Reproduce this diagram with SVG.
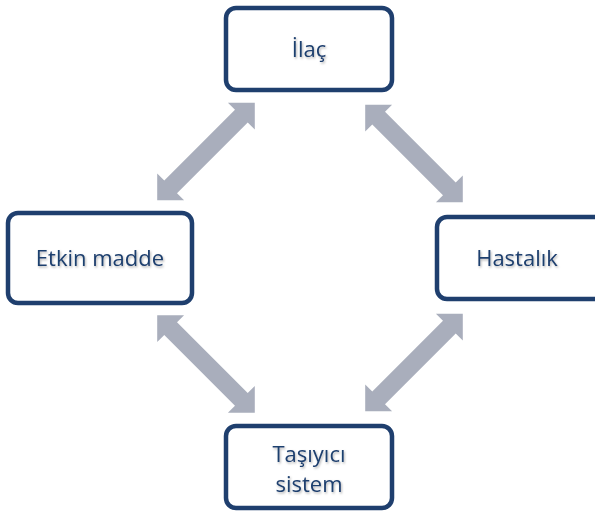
<svg xmlns="http://www.w3.org/2000/svg" width="595" height="512" viewBox="0 0 595 512">
  <defs>
    <filter id="ts" x="-20%" y="-40%" width="140%" height="180%">
      <feDropShadow dx="1" dy="1.5" stdDeviation="1.2" flood-color="#000" flood-opacity="0.3"/>
    </filter>
    <path id="arrow" d="M -69,0 L -50,-19 L -50,-9 L 50,-9 L 50,-19 L 69,0 L 50,19 L 50,9 L -50,9 L -50,19 Z"/>
  </defs>
  <style>
    .box { fill: #ffffff; stroke: #1f3f6e; stroke-width: 4.5; }
    .lbl { font-family: "Open Sans", "Liberation Sans", sans-serif; font-size: 22px; fill: #1f3f6e; text-anchor: middle; filter: url(#ts); }
    .arr { fill: #a9aebc; }
  </style>
  <rect width="595" height="512" fill="#ffffff"/>
  <g id="connectors">
    <use href="#arrow" class="arr" transform="translate(206,151.5) rotate(-45)"/>
    <use href="#arrow" class="arr" transform="translate(414,153.5) rotate(45)"/>
    <use href="#arrow" class="arr" transform="translate(206,364) rotate(45)"/>
    <use href="#arrow" class="arr" transform="translate(414,362.5) rotate(-45)"/>
  </g>
  <g id="ilac">
    <rect class="box" x="226" y="8" width="166" height="82" rx="10"/>
    <text class="lbl" x="309" y="57">İlaç</text>
  </g>
  <g id="etkin-madde">
    <rect class="box" x="8" y="213" width="184" height="90" rx="10"/>
    <text class="lbl" x="100" y="266">Etkin madde</text>
  </g>
  <g id="hastalik">
    <rect class="box" x="437" y="217" width="175" height="82" rx="10"/>
    <text class="lbl" x="517" y="266">Hastalık</text>
  </g>
  <g id="tasiyici-sistem">
    <rect class="box" x="226" y="426" width="166" height="82" rx="10"/>
    <text class="lbl" x="309" y="462">Taşıyıcı</text>
    <text class="lbl" x="309" y="492">sistem</text>
  </g>
</svg>
